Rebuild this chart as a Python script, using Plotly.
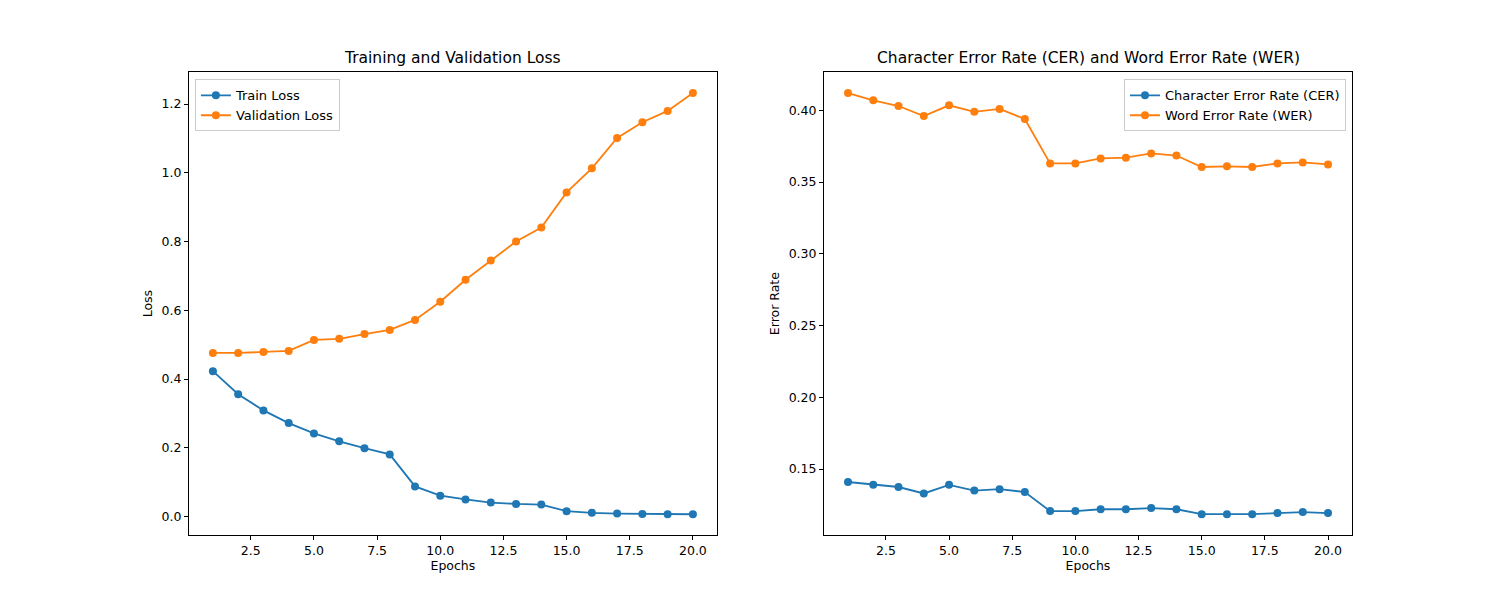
import plotly.graph_objects as go

epochs = list(range(1, 21))
train_loss = [0.423, 0.356, 0.309, 0.272, 0.242, 0.219, 0.199, 0.181, 0.088, 0.061,
              0.050, 0.041, 0.037, 0.035, 0.016, 0.011, 0.009, 0.008, 0.007, 0.007]
val_loss = [0.476, 0.476, 0.479, 0.482, 0.514, 0.517, 0.531, 0.543, 0.572, 0.625,
            0.689, 0.745, 0.800, 0.841, 0.943, 1.013, 1.101, 1.147, 1.180, 1.232]
cer = [0.141, 0.139, 0.1375, 0.133, 0.139, 0.135, 0.136, 0.134, 0.1207, 0.1207,
       0.122, 0.122, 0.1228, 0.122, 0.1186, 0.1186, 0.1186, 0.1193, 0.120, 0.1193]
wer = [0.412, 0.407, 0.403, 0.396, 0.4035, 0.399, 0.401, 0.394, 0.363, 0.363,
       0.3665, 0.367, 0.370, 0.3685, 0.3605, 0.361, 0.3605, 0.363, 0.3637, 0.3623]
xticks = [2.5, 5.0, 7.5, 10.0, 12.5, 15.0, 17.5, 20.0]

BLUE = "#1f77b4"
ORANGE = "#ff7f0e"

fig = go.Figure()

def add_line(x, y, name, color, xa, ya, legend):
    fig.add_trace(go.Scatter(x=x, y=y, name=name, mode="lines+markers",
                             line=dict(color=color, width=1.8),
                             marker=dict(color=color, size=8),
                             xaxis=xa, yaxis=ya, legend=legend))

add_line(epochs, train_loss, "Train Loss", BLUE, "x", "y", "legend")
add_line(epochs, val_loss, "Validation Loss", ORANGE, "x", "y", "legend")
add_line(epochs, cer, "Character Error Rate (CER)", BLUE, "x2", "y2", "legend2")
add_line(epochs, wer, "Word Error Rate (WER)", ORANGE, "x2", "y2", "legend2")

axis_style = dict(showline=True, mirror=True, linecolor="black", linewidth=1,
                  ticks="outside", ticklen=4, tickcolor="black", showgrid=False,
                  zeroline=False, tickfont=dict(size=12.5, color="black"))

xtext = [f"{v:.1f}" for v in xticks]
title_font = dict(size=12.5, color="black")
fig.update_layout(
    width=1500, height=600,
    margin=dict(l=0, r=0, t=0, b=0),
    plot_bgcolor="white", paper_bgcolor="white",
    font=dict(family="DejaVu Sans", size=13, color="black"),
    xaxis=dict(domain=[0.1206, 0.4726], range=[0.05, 20.95], tickvals=xticks, ticktext=xtext,
               title=dict(text="Epochs", standoff=4, font=title_font), anchor="y", **axis_style),
    yaxis=dict(domain=[0.1213, 0.8933], range=[-0.054, 1.293], tickvals=[0, 0.2, 0.4, 0.6, 0.8, 1.0, 1.2],
               tickformat=".1f", title=dict(text="Loss", standoff=6, font=title_font), anchor="x", **axis_style),
    xaxis2=dict(domain=[0.544, 0.896], range=[0.05, 20.95], tickvals=xticks, ticktext=xtext,
                title=dict(text="Epochs", standoff=4, font=title_font), anchor="y2", **axis_style),
    yaxis2=dict(domain=[0.1213, 0.8933], range=[0.1039, 0.4267],
                tickvals=[0.15, 0.20, 0.25, 0.30, 0.35, 0.40], tickformat=".2f",
                title=dict(text="Error Rate", standoff=6, font=title_font), anchor="x2", **axis_style),
    legend=dict(x=0.1246, y=0.881, xanchor="left", yanchor="top", bgcolor="white",
                bordercolor="#cccccc", borderwidth=1, font=dict(size=13)),
    legend2=dict(x=0.892, y=0.881, xanchor="right", yanchor="top", bgcolor="white",
                 bordercolor="#cccccc", borderwidth=1, font=dict(size=13)),
    annotations=[
        dict(text="Training and Validation Loss", x=0.2966, y=0.898, xref="paper", yref="paper",
             xanchor="center", yanchor="bottom", showarrow=False, font=dict(size=15.5)),
        dict(text="Character Error Rate (CER) and Word Error Rate (WER)", x=0.72, y=0.898,
             xref="paper", yref="paper", xanchor="center", yanchor="bottom", showarrow=False,
             font=dict(size=15.5)),
    ],
)

fig.write_html("out.html")
